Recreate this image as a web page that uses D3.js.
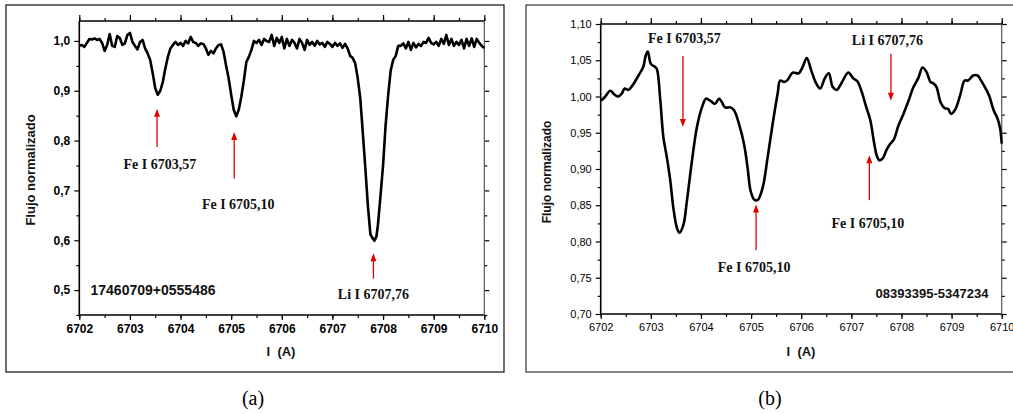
<!DOCTYPE html>
<html>
<head>
<meta charset="utf-8">
<script src="https://cdn.jsdelivr.net/npm/d3@7"></script>
<style>
  html, body { margin: 0; padding: 0; background: #fff; }
  svg { display: block; }
</style>
</head>
<body>
<svg id="chart" width="1013" height="414"></svg>
<script>
// ---------------- DATA ----------------
const xTicks = [6702, 6703, 6704, 6705, 6706, 6707, 6708, 6709, 6710];
const yTicksA = [0.5, 0.6, 0.7, 0.8, 0.9, 1.0];
const yTicksB = [0.70, 0.75, 0.80, 0.85, 0.90, 0.95, 1.00, 1.05, 1.10];

// Panel (a): 17460709+0555486  [wavelength, normalized flux]
const spectrumA = [
[6702.00,0.990],[6702.05,0.992],[6702.10,0.988],[6702.15,0.996],[6702.20,1.004],[6702.25,1.003],
[6702.30,1.005],[6702.35,1.002],[6702.40,1.004],[6702.45,0.996],[6702.50,0.980],[6702.55,0.992],
[6702.60,1.014],[6702.65,0.990],[6702.70,0.988],[6702.75,1.010],[6702.80,1.006],[6702.85,0.992],
[6702.90,0.995],[6702.95,1.012],[6703.00,1.016],[6703.05,0.998],[6703.10,0.990],[6703.15,0.983],
[6703.20,0.998],[6703.25,1.002],[6703.30,0.985],[6703.35,0.975],[6703.40,0.962],[6703.45,0.935],
[6703.50,0.905],[6703.55,0.892],[6703.60,0.900],[6703.65,0.918],[6703.70,0.945],[6703.75,0.968],
[6703.80,0.985],[6703.85,0.992],[6703.90,0.998],[6703.95,0.992],[6704.00,0.996],[6704.05,0.990],
[6704.10,1.000],[6704.15,0.995],[6704.20,1.008],[6704.25,0.998],[6704.30,0.996],[6704.35,0.990],
[6704.40,0.995],[6704.45,0.994],[6704.50,0.985],[6704.55,0.972],[6704.60,0.980],[6704.65,0.975],
[6704.70,0.985],[6704.75,0.992],[6704.80,0.993],[6704.85,0.978],[6704.90,0.950],[6704.95,0.925],
[6705.00,0.892],[6705.05,0.862],[6705.10,0.849],[6705.15,0.862],[6705.20,0.888],[6705.25,0.920],
[6705.30,0.958],[6705.35,0.968],[6705.40,0.982],[6705.45,1.000],[6705.50,0.996],[6705.55,1.002],
[6705.60,0.992],[6705.65,1.004],[6705.70,1.000],[6705.75,0.998],[6705.80,1.012],[6705.85,0.990],
[6705.90,1.006],[6705.95,0.996],[6706.00,1.008],[6706.05,0.985],[6706.10,1.004],[6706.15,0.990],
[6706.20,1.002],[6706.25,0.996],[6706.30,0.985],[6706.35,1.004],[6706.40,0.996],[6706.45,0.982],
[6706.50,1.002],[6706.55,0.992],[6706.60,0.998],[6706.65,0.990],[6706.70,1.000],[6706.75,0.993],
[6706.80,0.996],[6706.85,0.988],[6706.90,0.998],[6706.95,0.994],[6707.00,0.988],[6707.05,0.996],
[6707.10,0.990],[6707.15,0.995],[6707.20,0.986],[6707.25,0.994],[6707.30,0.985],[6707.35,0.970],
[6707.40,0.966],[6707.45,0.955],[6707.50,0.925],[6707.55,0.885],[6707.60,0.816],[6707.65,0.745],
[6707.70,0.670],[6707.75,0.612],[6707.80,0.603],[6707.83,0.599],[6707.87,0.608],[6707.90,0.632],
[6707.95,0.690],[6708.00,0.750],[6708.05,0.830],[6708.10,0.890],[6708.15,0.940],[6708.20,0.962],
[6708.25,0.970],[6708.30,0.990],[6708.35,0.990],[6708.40,0.995],[6708.45,0.985],[6708.50,0.998],
[6708.55,0.982],[6708.60,0.996],[6708.65,0.987],[6708.70,0.994],[6708.75,0.990],[6708.80,0.998],
[6708.85,0.996],[6708.90,1.006],[6708.95,0.996],[6709.00,0.993],[6709.05,0.998],[6709.10,0.990],
[6709.15,1.004],[6709.20,0.994],[6709.25,1.012],[6709.30,0.992],[6709.35,1.004],[6709.40,0.990],
[6709.45,0.998],[6709.50,0.992],[6709.55,1.002],[6709.60,0.985],[6709.65,1.004],[6709.70,0.990],
[6709.75,1.005],[6709.80,0.988],[6709.85,1.004],[6709.90,0.996],[6709.95,0.990],[6710.00,0.986]
];

// Panel (b): 08393395-5347234
const spectrumB = [
[6702.00,0.994],[6702.08,0.999],[6702.19,1.008],[6702.27,1.003],[6702.35,1.000],[6702.42,1.004],
[6702.48,1.011],[6702.55,1.009],[6702.62,1.014],[6702.68,1.020],[6702.78,1.032],[6702.85,1.041],
[6702.90,1.057],[6702.94,1.062],[6703.00,1.045],[6703.08,1.041],[6703.12,1.038],[6703.19,0.994],
[6703.25,0.944],[6703.32,0.916],[6703.39,0.883],[6703.45,0.846],[6703.52,0.819],[6703.57,0.812],
[6703.65,0.823],[6703.72,0.856],[6703.82,0.911],[6703.92,0.958],[6704.02,0.985],[6704.10,0.997],
[6704.19,0.994],[6704.28,0.990],[6704.36,0.997],[6704.42,0.992],[6704.48,0.985],[6704.59,0.985],
[6704.66,0.981],[6704.76,0.962],[6704.86,0.934],[6704.93,0.902],[6704.99,0.870],[6705.06,0.858],
[6705.13,0.857],[6705.23,0.874],[6705.33,0.916],[6705.43,0.962],[6705.53,1.004],[6705.58,1.022],
[6705.66,1.020],[6705.73,1.023],[6705.83,1.033],[6705.95,1.032],[6706.03,1.041],[6706.11,1.053],
[6706.20,1.036],[6706.30,1.018],[6706.38,1.011],[6706.47,1.025],[6706.55,1.032],[6706.63,1.013],
[6706.71,1.009],[6706.80,1.018],[6706.94,1.033],[6707.04,1.025],[6707.12,1.021],[6707.20,1.008],
[6707.30,0.985],[6707.38,0.967],[6707.45,0.938],[6707.51,0.918],[6707.56,0.912],[6707.63,0.915],
[6707.70,0.926],[6707.77,0.934],[6707.85,0.941],[6707.94,0.960],[6708.04,0.976],[6708.14,0.994],
[6708.24,1.013],[6708.34,1.026],[6708.42,1.040],[6708.50,1.034],[6708.58,1.020],[6708.64,1.018],
[6708.70,1.013],[6708.78,0.992],[6708.86,0.984],[6708.93,0.983],[6708.99,0.976],[6709.08,0.983],
[6709.18,1.004],[6709.26,1.022],[6709.33,1.022],[6709.43,1.029],[6709.52,1.029],[6709.58,1.023],
[6709.68,1.011],[6709.75,1.001],[6709.84,0.981],[6709.92,0.969],[6709.97,0.955],[6710.00,0.935]
];

// Annotations: label, arrow x, arrow tail/tip flux, label x / flux
const annotationsA = [
  {label: "Fe I 6703,57", ax: 6703.535, tail: 0.787, tip: 0.864, lx: 6703.59, ly: 0.753},
  {label: "Fe I 6705,10", ax: 6705.06, tail: 0.724, tip: 0.817, lx: 6705.14, ly: 0.673},
  {label: "Li I 6707,76", ax: 6707.81, tail: 0.523, tip: 0.574, lx: 6707.81, ly: 0.491}
];
const annotationsB = [
  {label: "Fe I 6703,57", ax: 6703.64, tail: 1.056, tip: 0.958, lx: 6703.67, ly: 1.081},
  {label: "Li I 6707,76", ax: 6707.79, tail: 1.059, tip: 0.994, lx: 6707.72, ly: 1.078},
  {label: "Fe I 6705,10", ax: 6707.36, tail: 0.857, tip: 0.919, lx: 6707.33, ly: 0.826},
  {label: "Fe I 6705,10", ax: 6705.10, tail: 0.788, tip: 0.851, lx: 6705.06, ly: 0.765}
];

const starA = "17460709+0555486";
const starB = "08393395-5347234";
const yTitle = "Flujo normalizado";
const xTitle = "l  (A)";

// ---------------- DRAW ----------------
const svg = d3.select("#chart");
const SANS = "'Liberation Sans', Arial, sans-serif";
const SERIF = "'Liberation Serif', 'Times New Roman', serif";

// outer frames
svg.append("rect").attr("x", 6).attr("y", 5).attr("width", 498).attr("height", 367)
  .attr("fill", "none").attr("stroke", "#222").attr("stroke-width", 1.3);
svg.append("rect").attr("x", 526).attr("y", 5).attr("width", 500).attr("height", 367)
  .attr("fill", "none").attr("stroke", "#444").attr("stroke-width", 1.3);

svg.append("text").attr("x", 253).attr("y", 405).attr("text-anchor", "middle")
  .attr("font-family", SERIF).attr("font-size", 20).text("(a)");
svg.append("text").attr("x", 770).attr("y", 405).attr("text-anchor", "middle")
  .attr("font-family", SERIF).attr("font-size", 20).text("(b)");

function panel(cfg) {
  const g = svg.append("g");
  const x = d3.scaleLinear().domain([6702, 6710]).range([cfg.x0, cfg.x1]);
  const y = d3.scaleLinear().domain(cfg.yDomain).range([cfg.yBot, cfg.yTop]);
  const minorX = d3.range(0, 17).map(i => 6702 + i * 0.5);
  const minorY = cfg.minorY;

  function axisG(axis, tx, ty) {
    const a = g.append("g").attr("transform", `translate(${tx},${ty})`).call(axis);
    a.select(".domain").remove();
    a.selectAll("line").attr("stroke", "#000").attr("stroke-width", 1.2);
    return a;
  }
  // minor ticks
  axisG(d3.axisBottom(x).tickValues(minorX).tickSize(3).tickFormat(""), 0, cfg.yBot);
  axisG(d3.axisTop(x).tickValues(minorX).tickSize(3).tickFormat(""), 0, cfg.yTop);
  axisG(d3.axisLeft(y).tickValues(minorY).tickSize(3).tickFormat(""), cfg.x0, 0);
  axisG(d3.axisRight(y).tickValues(minorY).tickSize(3).tickFormat(""), cfg.x1, 0);
  // major ticks
  const bx = axisG(d3.axisBottom(x).tickValues(xTicks).tickSize(5).tickPadding(4)
      .tickFormat(d3.format("d")), 0, cfg.yBot);
  axisG(d3.axisTop(x).tickValues(xTicks).tickSize(6).tickFormat(""), 0, cfg.yTop);
  const ly = axisG(d3.axisLeft(y).tickValues(cfg.yTicks).tickSize(5).tickPadding(4)
      .tickFormat(cfg.yFmt), cfg.x0, 0);
  axisG(d3.axisRight(y).tickValues(cfg.yTicks).tickSize(5).tickFormat(""), cfg.x1, 0);

  [bx, ly].forEach(a => a.selectAll("text")
    .attr("font-family", SANS).attr("font-size", cfg.tickSize)
    .attr("font-weight", cfg.tickWeight).attr("fill", "#000"));

  // axis lines (box)
  g.append("line").attr("x1", cfg.x0).attr("x2", cfg.x1).attr("y1", cfg.yBot).attr("y2", cfg.yBot)
    .attr("stroke", "#000").attr("stroke-width", 1.6);
  g.append("line").attr("x1", cfg.x0).attr("x2", cfg.x1).attr("y1", cfg.yTop).attr("y2", cfg.yTop)
    .attr("stroke", "#000").attr("stroke-width", 1.6);
  g.append("line").attr("x1", cfg.x0).attr("x2", cfg.x0).attr("y1", cfg.yTop).attr("y2", cfg.yBot)
    .attr("stroke", "#000").attr("stroke-width", 1.6);
  g.append("line").attr("x1", cfg.x1).attr("x2", cfg.x1).attr("y1", cfg.yTop).attr("y2", cfg.yBot)
    .attr("stroke", "#555").attr("stroke-width", 1.2);

  // spectrum
  const line = d3.line().x(d => x(d[0])).y(d => y(d[1])).curve(cfg.curve);
  g.append("path").datum(cfg.data).attr("d", line).attr("fill", "none")
    .attr("stroke", "#000").attr("stroke-width", 2.6).attr("stroke-linejoin", "round");

  // annotations
  cfg.ann.forEach(a => {
    const ax = x(a.ax), yt = y(a.tail), yp = y(a.tip);
    const dir = yp < yt ? -1 : 1; // -1 upward
    const headLen = 8, headW = 3;
    g.append("line").attr("x1", ax).attr("x2", ax).attr("y1", yt).attr("y2", yp - dir * headLen * 0.6)
      .attr("stroke", "#e00000").attr("stroke-width", 1.3);
    g.append("path").attr("d", `M${ax},${yp} L${ax - headW},${yp - dir * headLen} L${ax + headW},${yp - dir * headLen} Z`)
      .attr("fill", "#e00000");
    g.append("text").attr("x", x(a.lx)).attr("y", y(a.ly)).attr("dy", "0.35em")
      .attr("text-anchor", "middle").attr("font-family", SERIF).attr("font-weight", "bold")
      .attr("font-size", 14).attr("fill", "#111").text(a.label);
  });

  // star name
  g.append("text").attr("x", cfg.star.x).attr("y", cfg.star.y).attr("dy", "0.35em")
    .attr("text-anchor", cfg.star.anchor).attr("font-family", SANS).attr("font-weight", "bold")
    .attr("font-size", cfg.star.size).attr("fill", "#111").text(cfg.star.text);

  // titles
  g.append("text").attr("transform", `translate(${cfg.yTitleX},${cfg.yTitleY}) rotate(-90)`)
    .attr("dy", "0.35em").attr("text-anchor", "middle").attr("font-family", SANS)
    .attr("font-weight", "bold").attr("font-size", cfg.yTitleSize).attr("fill", "#111").text(yTitle);
  g.append("text").attr("x", cfg.xTitleX).attr("y", 351).attr("dy", "0.35em")
    .attr("text-anchor", "middle").attr("font-family", SANS)
    .attr("font-weight", "bold").attr("font-size", 13).attr("fill", "#111")
    .attr("xml:space", "preserve").text(xTitle);
}

panel({
  x0: 79.3, x1: 484.3, yTop: 21, yBot: 315, yDomain: [0.45, 1.04],
  yTicks: yTicksA, minorY: [0.45, 0.55, 0.65, 0.75, 0.85, 0.95],
  yFmt: d => d3.format(".1f")(d).replace(".", ","),
  tickSize: 12, tickWeight: "bold", data: spectrumA, ann: annotationsA, curve: d3.curveLinear,
  star: {text: starA, x: 153, y: 290, anchor: "middle", size: 14},
  yTitleX: 30, yTitleY: 170, yTitleSize: 13, xTitleX: 281
});
panel({
  x0: 600.7, x1: 1001.7, yTop: 24, yBot: 314, yDomain: [0.70, 1.10],
  yTicks: yTicksB, minorY: [0.725, 0.775, 0.825, 0.875, 0.925, 0.975, 1.025, 1.075],
  yFmt: d => d3.format(".2f")(d).replace(".", ","),
  tickSize: 11, tickWeight: "normal", data: spectrumB, ann: annotationsB,
  curve: d3.curveCatmullRom.alpha(0.5),
  star: {text: starB, x: 932, y: 293, anchor: "middle", size: 13},
  yTitleX: 547, yTitleY: 172, yTitleSize: 12, xTitleX: 801
});
</script>
</body>
</html>
